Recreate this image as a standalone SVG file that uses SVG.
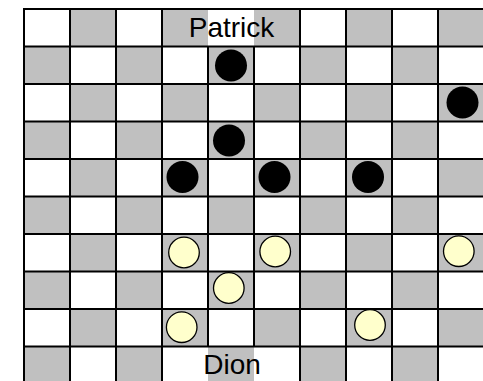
<svg xmlns="http://www.w3.org/2000/svg" width="483" height="381" viewBox="0 0 483 381">
  <style>
    .grid line { stroke: #000; stroke-width: 2; }
    .black { fill: #000; }
    .white { fill: #FFFFCC; stroke: #000; stroke-width: 1.3; }
    .label { font-family: "Liberation Sans", Arial, sans-serif; font-size: 28px; fill: #000; text-anchor: middle; }
  </style>
  <defs>
    <pattern id="checker" patternUnits="userSpaceOnUse" x="24" y="9" width="92" height="75">
      <rect x="0" y="0" width="92" height="75" fill="#fff"/>
      <rect x="46" y="0" width="46" height="37.5" fill="#C0C0C0"/>
      <rect x="0" y="37.5" width="46" height="37.5" fill="#C0C0C0"/>
    </pattern>
  </defs>
  <rect width="483" height="381" fill="#fff"/>
  <g id="board">
    <rect x="24" y="9" width="460" height="375" fill="url(#checker)"/>
  </g>
  <g id="connectors" class="grid">
    <line x1="24" y1="9" x2="24" y2="384"/>
    <line x1="70" y1="9" x2="70" y2="384"/>
    <line x1="116" y1="9" x2="116" y2="384"/>
    <line x1="162" y1="9" x2="162" y2="384"/>
    <line x1="208" y1="46.5" x2="208" y2="346.5"/>
    <line x1="254" y1="46.5" x2="254" y2="346.5"/>
    <line x1="300" y1="9" x2="300" y2="384"/>
    <line x1="346" y1="9" x2="346" y2="384"/>
    <line x1="392" y1="9" x2="392" y2="384"/>
    <line x1="438" y1="9" x2="438" y2="384"/>
    <line x1="23" y1="9" x2="484" y2="9"/>
    <line x1="23" y1="46.5" x2="484" y2="46.5"/>
    <line x1="23" y1="84" x2="484" y2="84"/>
    <line x1="23" y1="121.5" x2="484" y2="121.5"/>
    <line x1="23" y1="159" x2="484" y2="159"/>
    <line x1="23" y1="196.5" x2="484" y2="196.5"/>
    <line x1="23" y1="234" x2="484" y2="234"/>
    <line x1="23" y1="271.5" x2="484" y2="271.5"/>
    <line x1="23" y1="309" x2="484" y2="309"/>
    <line x1="23" y1="346.5" x2="484" y2="346.5"/>
  </g>
  <g id="label-patrick">
    <text class="label" x="231.5" y="37">Patrick</text>
  </g>
  <g id="label-dion">
    <text class="label" x="232" y="373.5">Dion</text>
  </g>
  <g id="black-pieces">
    <circle id="b1" class="black" cx="231" cy="65.5" r="16"/>
    <circle id="b2" class="black" cx="462.5" cy="102.5" r="16"/>
    <circle id="b3" class="black" cx="229" cy="140.5" r="16"/>
    <circle id="b4" class="black" cx="182.5" cy="177" r="16"/>
    <circle id="b5" class="black" cx="274.5" cy="177" r="16"/>
    <circle id="b6" class="black" cx="368" cy="177" r="16"/>
  </g>
  <g id="yellow-pieces">
    <circle id="y1" class="white" cx="184" cy="252.5" r="15.3"/>
    <circle id="y2" class="white" cx="275.2" cy="251.5" r="15.3"/>
    <circle id="y3" class="white" cx="458.8" cy="251.2" r="15.3"/>
    <circle id="y4" class="white" cx="228.8" cy="288" r="15.3"/>
    <circle id="y5" class="white" cx="181.7" cy="327.2" r="15.3"/>
    <circle id="y6" class="white" cx="370" cy="325" r="15.3"/>
  </g>
</svg>
